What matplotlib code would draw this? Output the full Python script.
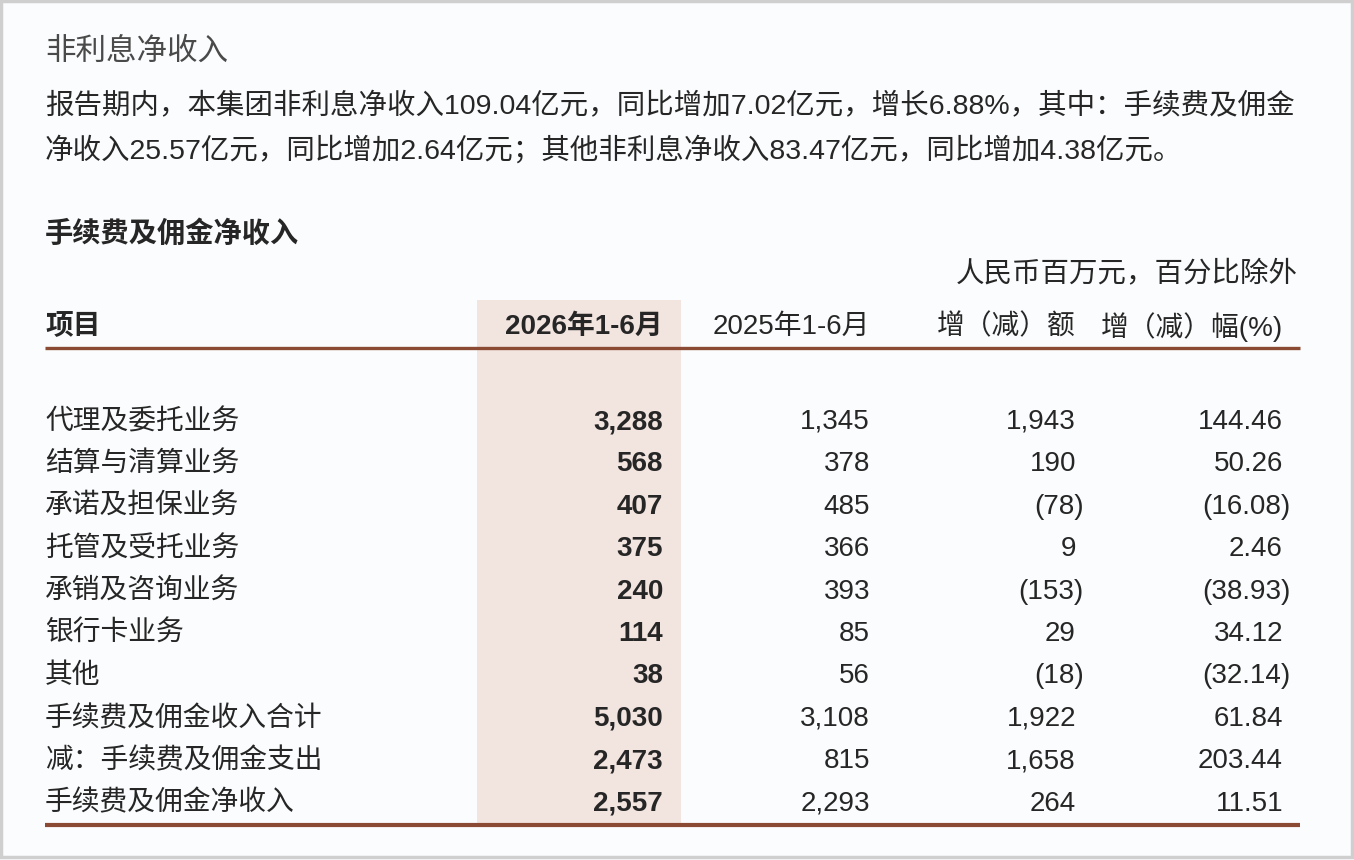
import matplotlib
matplotlib.use("Agg")
import matplotlib.pyplot as plt
from matplotlib.patches import Rectangle

plt.rcParams['font.family'] = ['Liberation Sans', 'Noto Sans CJK SC', 'DejaVu Sans']

# Table data (RMB million)
title = "非利息净收入"
para_lines = [
    "报告期内，本集团非利息净收入109.04亿元，同比增加7.02亿元，增长6.88%，其中：手续费及佣金",
    "净收入25.57亿元，同比增加2.64亿元；其他非利息净收入83.47亿元，同比增加4.38亿元。",
]
section = "手续费及佣金净收入"
unit_note = "人民币百万元，百分比除外"
headers = ["项目", "2026年1-6月", "2025年1-6月", "增（减）额", "增（减）幅(%)"]

items = ["代理及委托业务", "结算与清算业务", "承诺及担保业务", "托管及受托业务",
         "承销及咨询业务", "银行卡业务", "其他", "手续费及佣金收入合计",
         "减：手续费及佣金支出", "手续费及佣金净收入"]
cur = [3288, 568, 407, 375, 240, 114, 38, 5030, 2473, 2557]
prev = [1345, 378, 485, 366, 393, 85, 56, 3108, 815, 2293]
chg = [1943, 190, -78, 9, -153, 29, -18, 1922, 1658, 264]
pct = [144.46, 50.26, -16.08, 2.46, -38.93, 34.12, -32.14, 61.84, 203.44, 11.51]
total_rows = [7, 9]


def fmt_int(v):
    s = f"{abs(v):,}"
    return f"({s})" if v < 0 else s


def fmt_pct(v):
    s = f"{abs(v):.2f}"
    return f"({s})" if v < 0 else s


txt = "#262626"
rule = "#8a4a33"
shade = "#f2e4df"
fs = 20

fig = plt.figure(figsize=(13.54, 8.6), dpi=100)
fig.patch.set_facecolor("#fbfcfd")
ax = fig.add_axes([0, 0, 1, 1])
ax.set_xlim(0, 1354)
ax.set_ylim(860, 0)
ax.axis("off")

# outer frame
ax.add_patch(Rectangle((1, 1), 1351, 856, fill=False, ec="#cfcfcf", lw=2.5))

# shaded current-period column
ax.add_patch(Rectangle((477, 300), 204, 527, fc=shade, ec="none", zorder=0))

ax.text(45, 52, title, fontsize=22, color="#4a4a4a", va="center")
for i, line in enumerate(para_lines):
    ax.text(45, 107 + i * 43, line, fontsize=20.5, color=txt, va="center")
ax.text(45, 234, section, fontsize=20.3, color=txt, va="center", fontweight="bold")
ax.text(1298, 275, unit_note, fontsize=20.5, color=txt, va="center", ha="right",
        style="italic")

col_x = [663, 870, 1076, 1283]
hy = 327
ax.text(45, hy, headers[0], fontsize=fs, color=txt, va="center", fontweight="bold")
ax.text(col_x[0], hy, headers[1], fontsize=fs, color=txt, va="center", ha="right",
        fontweight="bold")
for j in range(2, 5):
    ax.text(col_x[j - 1], hy, headers[j], fontsize=fs, color=txt, va="center", ha="right")

ax.plot([45, 1300], [348, 348], color=rule, lw=2.4, solid_capstyle="butt")
ax.plot([45, 1300], [825, 825], color=rule, lw=3.0, solid_capstyle="butt")

row0, dy = 422, 42.4
paren = 8
for i, name in enumerate(items):
    y = row0 + i * dy
    w = "medium" if i in total_rows else "normal"
    ax.text(45, y, name, fontsize=fs, color=txt, va="center", fontweight=w)
    ax.text(col_x[0], y, fmt_int(cur[i]), fontsize=fs, color=txt, va="center",
            ha="right", fontweight="bold")
    ax.text(col_x[1], y, fmt_int(prev[i]), fontsize=fs, color=txt, va="center", ha="right")
    ax.text(col_x[2] + (paren if chg[i] < 0 else 0), y, fmt_int(chg[i]), fontsize=fs,
            color=txt, va="center", ha="right")
    ax.text(col_x[3] + (paren if pct[i] < 0 else 0), y, fmt_pct(pct[i]), fontsize=fs,
            color=txt, va="center", ha="right")

fig.savefig("out.png", dpi=100, facecolor=fig.get_facecolor())
